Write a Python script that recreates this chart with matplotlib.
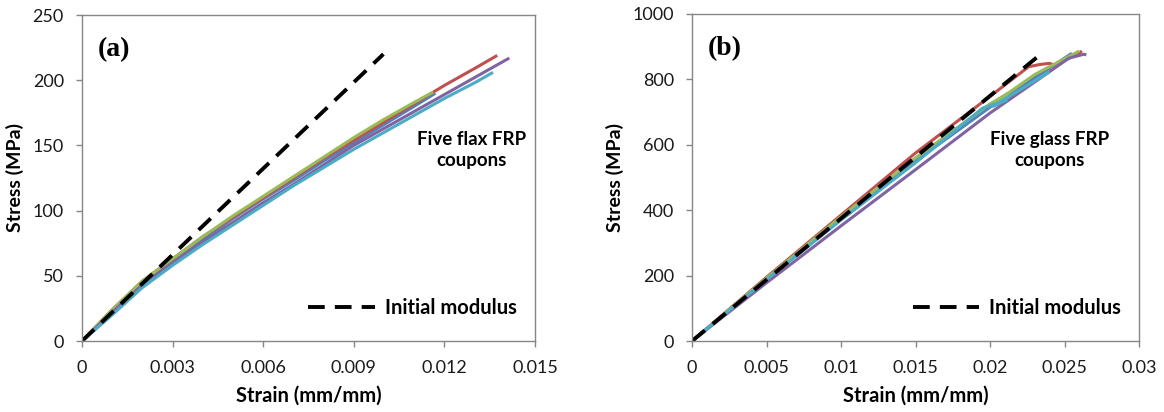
import matplotlib
matplotlib.use("Agg")
import matplotlib.pyplot as plt
from matplotlib.lines import Line2D

# ---- flax FRP coupons (a) ----
flax_strain_blue = [0, 0.001, 0.002, 0.003, 0.004, 0.005, 0.006, 0.007, 0.008, 0.009, 0.010, 0.011, 0.0117]
flax_stress_blue = [0, 23, 45, 62, 78, 94, 109, 123, 138, 152, 166, 180, 190]
flax_strain_red = [0, 0.001, 0.002, 0.003, 0.004, 0.005, 0.006, 0.007, 0.008, 0.009, 0.010, 0.011, 0.012, 0.013, 0.01375]
flax_stress_red = [0, 24, 46, 63, 80, 95, 110, 125, 140, 154, 168, 182, 196, 209, 219]
flax_strain_green = [0, 0.001, 0.002, 0.003, 0.004, 0.005, 0.006, 0.007, 0.008, 0.009, 0.010, 0.011, 0.01163]
flax_stress_green = [0, 24, 46, 63, 80, 96, 111, 126, 141, 156, 170, 183, 191]
flax_strain_purple = [0, 0.001, 0.002, 0.003, 0.004, 0.005, 0.006, 0.007, 0.008, 0.009, 0.010, 0.011, 0.012, 0.013, 0.01415]
flax_stress_purple = [0, 22, 43, 60, 76, 91, 106, 120, 135, 150, 163, 176, 189, 202, 217]
flax_strain_cyan = [0, 0.001, 0.002, 0.003, 0.004, 0.005, 0.006, 0.007, 0.008, 0.009, 0.010, 0.011, 0.012, 0.013, 0.01361]
flax_stress_cyan = [0, 20, 41, 58, 74, 89, 104, 119, 133, 147, 160, 173, 186, 198, 206]
flax_mod_strain = [0, 0.00998]
flax_mod_stress = [0, 220]

# ---- glass FRP coupons (b) ----
glass_strain_blue = [0, 0.005, 0.010, 0.015, 0.020, 0.0225, 0.0255]
glass_stress_blue = [0, 188, 372, 550, 715, 790, 880]
glass_strain_red = [0, 0.005, 0.010, 0.015, 0.020, 0.0226, 0.0234, 0.0240, 0.0243, 0.0250, 0.0260, 0.02616]
glass_stress_red = [0, 195, 385, 575, 748, 839, 846, 849, 844, 858, 880, 887]
glass_strain_green = [0, 0.005, 0.010, 0.015, 0.020, 0.0212, 0.0205, 0.0230, 0.0260]
glass_stress_green = [0, 192, 380, 560, 725, 757, 735, 815, 887]
glass_strain_purple = [0, 0.005, 0.010, 0.015, 0.020, 0.0253, 0.0263, 0.02647]
glass_stress_purple = [0, 178, 352, 524, 697, 865, 877, 875]
glass_strain_cyan = [0, 0.005, 0.010, 0.015, 0.0195, 0.0211, 0.0202, 0.0240]
glass_stress_cyan = [0, 188, 370, 545, 712, 737, 718, 823]
glass_mod_strain = [0, 0.02348]
glass_mod_stress = [0, 880]

colors = ["#4F81BD", "#C0504D", "#9BBB59", "#8064A2", "#4BACC6"]
grey = "#868686"
sans = ["Lato", "DejaVu Sans"]
dash = (0, (4.3, 2.6))

fig = plt.figure(figsize=(11.64, 4.12), dpi=100)
ax_a = fig.add_axes([82 / 1164, 1 - 341 / 412, 453 / 1164, 326 / 412])
ax_b = fig.add_axes([692 / 1164, 1 - 341 / 412, 447 / 1164, 327 / 412])


def draw(ax, curves, mod, tag, note, note_x, xlim, xticks, xlabels, ylim, yticks):
    for (x, y), c in zip(curves, colors):
        ax.plot(x, y, color=c, lw=2.2, solid_capstyle="butt")
    ax.plot(mod[0], mod[1], color="black", lw=2.8, linestyle=dash)

    ax.set_xlim(xlim)
    ax.set_ylim(ylim)
    ax.set_xticks(xticks)
    ax.set_xticklabels(xlabels)
    ax.set_yticks(yticks)
    for s in ax.spines.values():
        s.set_color(grey)
        s.set_linewidth(1.0)
    ax.tick_params(direction="out", length=4, width=1, color=grey,
                   labelsize=13, labelcolor="#1a1a1a")
    ax.tick_params(axis="x", pad=10)
    ax.tick_params(axis="y", pad=9)
    for lab in ax.get_xticklabels() + ax.get_yticklabels():
        lab.set_family(sans)

    ax.set_xlabel("Strain (mm/mm)", fontsize=14.5, fontweight="bold", family=sans, labelpad=7)
    ax.set_ylabel("Stress (MPa)", fontsize=14, fontweight="bold", family=sans, labelpad=6)

    ax.text(0.035, 0.895, tag, transform=ax.transAxes, fontsize=20, fontweight="bold",
            family=["Liberation Serif", "DejaVu Serif"], va="center", ha="left")
    ax.text(note_x, 0.585, note, transform=ax.transAxes, fontsize=13.5, fontweight="bold",
            family=sans, ha="center", va="center", linespacing=1.3)

    handle = Line2D([], [], color="black", lw=2.8, linestyle=dash)
    ax.legend([handle], ["Initial modulus"], loc="center right",
              bbox_to_anchor=(0.96, 0.10), frameon=False, handlelength=3.3,
              handletextpad=0.5, borderpad=0, borderaxespad=0,
              prop={"family": sans, "weight": "bold", "size": 14.5})


draw(ax_a,
     [(flax_strain_blue, flax_stress_blue), (flax_strain_red, flax_stress_red),
      (flax_strain_green, flax_stress_green), (flax_strain_purple, flax_stress_purple),
      (flax_strain_cyan, flax_stress_cyan)],
     (flax_mod_strain, flax_mod_stress), "(a)", "Five flax FRP\ncoupons", 0.86,
     (0, 0.015), [0, 0.003, 0.006, 0.009, 0.012, 0.015],
     ["0", "0.003", "0.006", "0.009", "0.012", "0.015"],
     (0, 250), [0, 50, 100, 150, 200, 250])

draw(ax_b,
     [(glass_strain_blue, glass_stress_blue), (glass_strain_red, glass_stress_red),
      (glass_strain_green, glass_stress_green), (glass_strain_purple, glass_stress_purple),
      (glass_strain_cyan, glass_stress_cyan)],
     (glass_mod_strain, glass_mod_stress), "(b)", "Five glass FRP\ncoupons", 0.80,
     (0, 0.03), [0, 0.005, 0.01, 0.015, 0.02, 0.025, 0.03],
     ["0", "0.005", "0.01", "0.015", "0.02", "0.025", "0.03"],
     (0, 1000), [0, 200, 400, 600, 800, 1000])

fig.savefig("out.png", dpi=100)
